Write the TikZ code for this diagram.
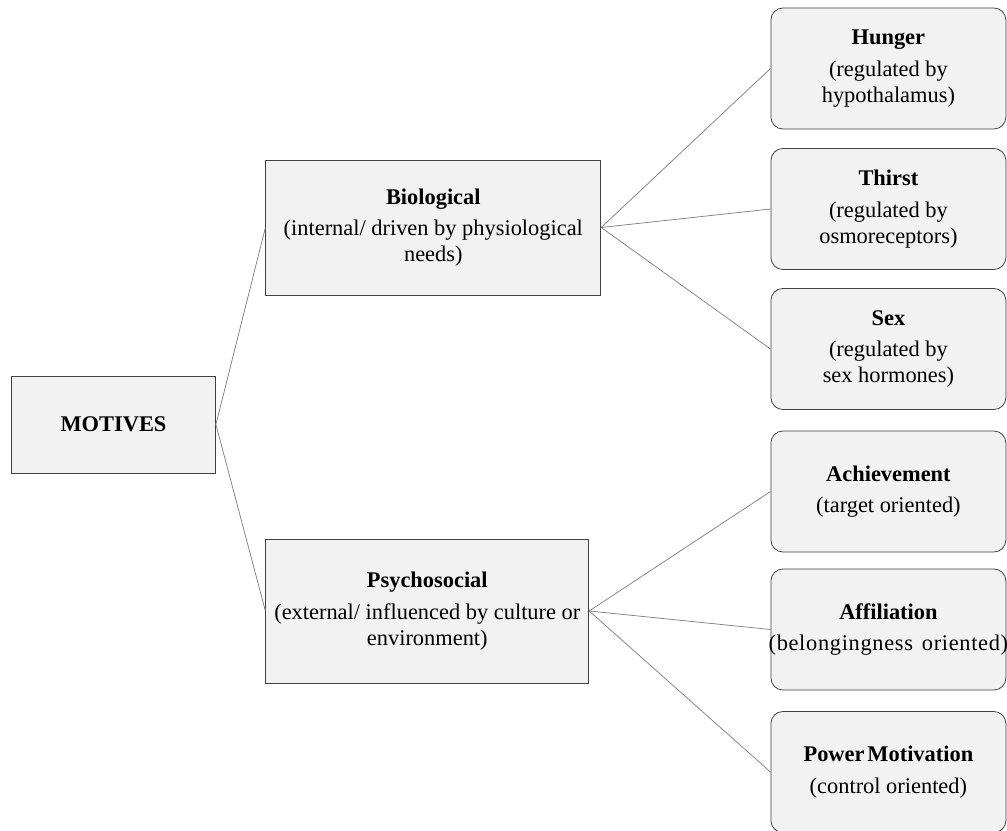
\documentclass[tikz,border=0pt]{standalone}
\usepackage{fontspec}
\setmainfont{Liberation Serif}
\usetikzlibrary{positioning}
\definecolor{boxfill}{HTML}{F2F2F2}
\definecolor{boxline}{HTML}{404040}
\definecolor{linkline}{HTML}{808080}
\tikzset{
  motivebox/.style={draw=boxline,fill=boxfill,line width=0.6pt,align=center,inner sep=0pt,font=\fontsize{16.8}{19.5}\selectfont},
  leafbox/.style={motivebox,rounded corners=9pt,minimum width=176.25pt,minimum height=90.75pt},
  link/.style={draw=linkline,line width=0.55pt}
}
\newcommand{\head}[1]{\textbf{#1}\\[4pt]}
\begin{document}
\begin{tikzpicture}[x=0.75pt,y=-0.75pt]
            \clip (0,0) rectangle (1007,831);
            \fill[white] (0,0) rectangle (1007,831);

            \node[motivebox,minimum width=153pt,minimum height=72.75pt] (motives) at (113.5,424.5) {\textbf{MOTIVES}};
            \node[motivebox,minimum width=251.25pt,minimum height=101.25pt] (bio) at (433.3,227.5) {\head{Biological}(internal/ driven by physiological\\needs)};
            \node[motivebox,minimum width=242.25pt,minimum height=108pt] (psy) at (427.3,611) {\head{Psychosocial}(external/ influenced by culture or\\environment)};

            \node[leafbox] (hunger) at (888.4,68.5) {\head{Hunger}(regulated by\\hypothalamus)};
            \node[leafbox] (thirst) at (888.4,209) {\head{Thirst}(regulated by\\osmoreceptors)};
            \node[leafbox] (sex) at (888.4,349) {\head{Sex}(regulated by\\sex hormones)};
            \node[leafbox] (achieve) at (888.4,491.5) {\head{Achievement}(target oriented)};
            \node[leafbox] (affil) at (888.4,629.5) {\head{Affiliation}\makebox[0pt]{\addfontfeature{LetterSpace=3}(belongingness\hspace{2pt} oriented)}\hspace{12pt}};
            \node[leafbox] (power) at (888.4,772) {\head{Power\hspace{-2pt} Motivation}(control oriented)};

            \draw[link] (motives.east) -- (bio.west);
            \draw[link] (motives.east) -- (psy.west);

            \draw[link] (bio.east) -- (hunger.west);
            \draw[link] (bio.east) -- (thirst.west);
            \draw[link] (bio.east) -- (sex.west);

            \draw[link] (psy.east) -- (achieve.west);
            \draw[link] (psy.east) -- (affil.west);
            \draw[link] (psy.east) -- (power.west);
        \end{tikzpicture}
\end{document}
